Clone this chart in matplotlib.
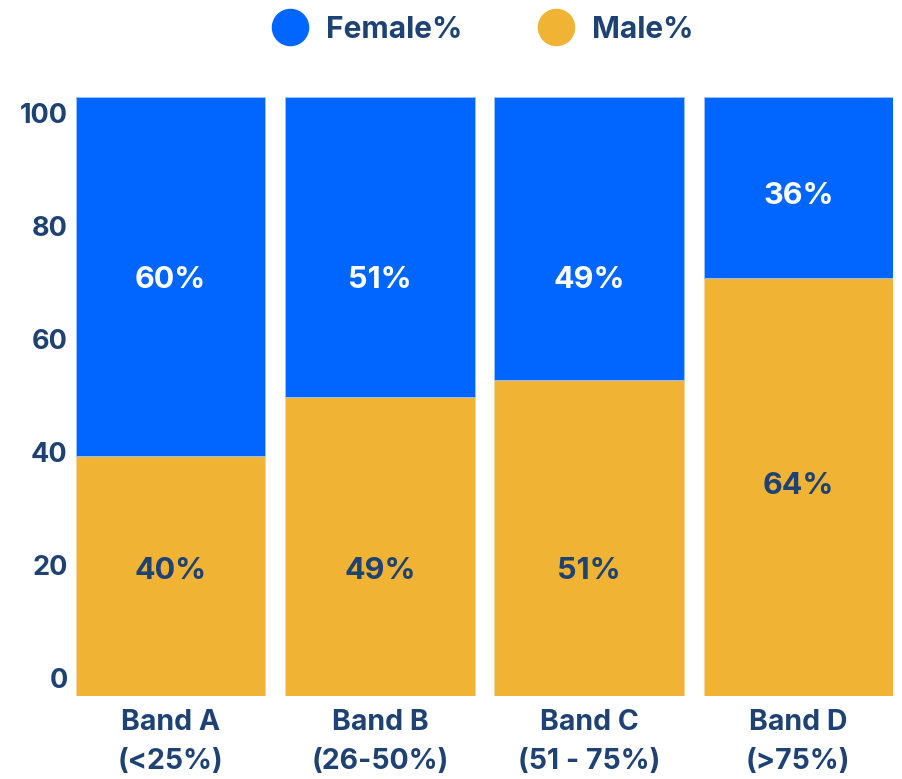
import matplotlib
matplotlib.use("Agg")
import matplotlib.pyplot as plt
from matplotlib.lines import Line2D

categories = ["Band A\n(<25%)", "Band B\n(26-50%)", "Band C\n(51 - 75%)", "Band D\n(>75%)"]
male_values = [40, 50, 52.7, 69.7]
female_values = [60, 50, 47.3, 30.3]
male_labels = ["40%", "49%", "51%", "64%"]
female_labels = ["60%", "51%", "49%", "36%"]
male_label_pos = [20.8, 20.8, 20.8, 35]
female_label_pos = [69.5, 69.5, 69.5, 83.5]
ytick_values = [0, 20, 40, 60, 80, 100]

BLUE = "#0066FF"
YELLOW = "#F0B334"
NAVY = "#1E4273"
FONT = ["Inter", "DejaVu Sans"]
plt.rcParams["font.family"] = FONT
plt.rcParams["font.weight"] = "bold"

fig = plt.figure(figsize=(9.02, 7.79), dpi=100)
ax = fig.add_axes([76/902, 1-696/779, 817/902, 599/779])

x = list(range(len(categories)))
w = 0.905
ax.bar(x, male_values, width=w, color=YELLOW, edgecolor="#F6D9A0", linewidth=0.6)
ax.bar(x, female_values, width=w, bottom=male_values, color=BLUE, edgecolor="#9EC2FF", linewidth=0.6)
ax.set_xlim(-w/2, len(categories) - 1 + w/2)
ax.set_ylim(0, 100)

for xi, lab, pos in zip(x, male_labels, male_label_pos):
    ax.text(xi, pos, lab, ha="center", va="center", color=NAVY, fontsize=22, fontweight="bold")
for xi, lab, pos in zip(x, female_labels, female_label_pos):
    ax.text(xi, pos, lab, ha="center", va="center", color="white", fontsize=22, fontweight="bold")

ax.set_xticks(x)
ax.set_xticklabels(categories, fontsize=20.5, fontweight="bold", color=NAVY, linespacing=1.6)
ax.tick_params(axis="x", length=0, pad=9)
ax.set_yticks([])
for s in ax.spines.values():
    s.set_visible(False)

# tick label axis
ax2 = ax.twinx()
ax2.set_ylim(-3.19, 102.83)
ax2.yaxis.tick_left()
ax2.set_yticks(ytick_values)
ax2.set_yticklabels([str(v) for v in ytick_values], fontsize=19.5, fontweight="bold", color=NAVY)
ax2.tick_params(axis="y", length=0, pad=6)
for s in ax2.spines.values():
    s.set_visible(False)

handles = [
    Line2D([], [], marker="o", linestyle="none", markersize=26, markerfacecolor=BLUE, markeredgecolor=BLUE),
    Line2D([], [], marker="o", linestyle="none", markersize=26, markerfacecolor=YELLOW, markeredgecolor=YELLOW),
]
leg = fig.legend(handles, ["Female%", "Male%"], loc="center", bbox_to_anchor=(0.535, 0.962),
                 ncol=2, frameon=False, handlelength=1.2, handletextpad=0.6, columnspacing=2.55,
                 prop={"weight": "bold", "size": 21.5})
for t in leg.get_texts():
    t.set_color(NAVY)

fig.savefig("out.png", dpi=100)
